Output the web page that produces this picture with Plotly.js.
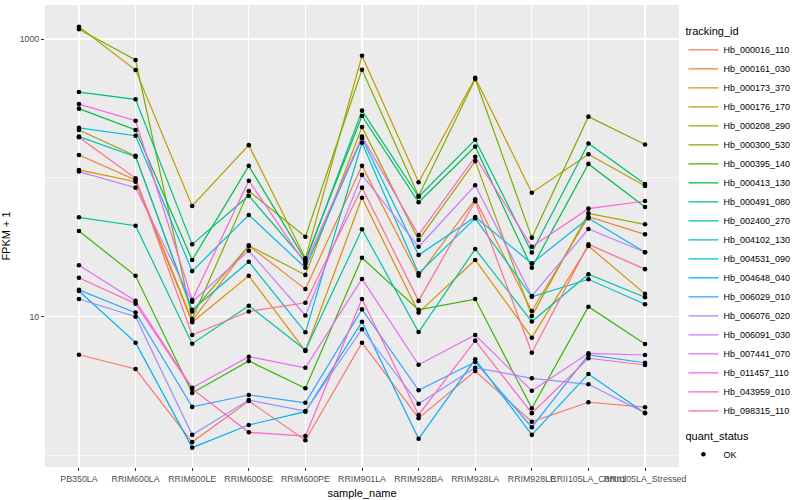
<!DOCTYPE html>
<html>
<head>
<meta charset="utf-8">
<script src="https://cdn.plot.ly/plotly-3.0.1.min.js"></script>
<style>html,body{margin:0;padding:0;background:#fff;}#chart{width:800px;height:500px;}</style>
</head>
<body>
<div id="chart"></div>
<script>
// ---- data (FPKM + 1) ----
const samples = ["PB350LA","RRIM600LA","RRIM600LE","RRIM600SE","RRIM600PE","RRIM901LA","RRIM928BA","RRIM928LA","RRIM928LE","RRII105LA_Control","RRII105LA_Stressed"];
const trackingIds = ["Hb_000016_110","Hb_000161_030","Hb_000173_370","Hb_000176_170","Hb_000208_290","Hb_000300_530","Hb_000395_140","Hb_000413_130","Hb_000491_080","Hb_002400_270","Hb_004102_130","Hb_004531_090","Hb_004648_040","Hb_006029_010","Hb_006076_020","Hb_006091_030","Hb_007441_070","Hb_011457_110","Hb_043959_010","Hb_098315_110"];

const hb_000016_110 = [5.32, 4.20, 1.25, 2.47, 1.29, 6.50, 1.86, 4.06, 1.75, 2.42, 2.23];
const hb_000161_030 = [146, 96.5, 9.36, 32.5, 15.8, 122, 19.7, 70.1, 11.0, 52.5, 39.2];
const hb_000173_370 = [114, 93.8, 9.11, 19.7, 5.66, 71.9, 10.7, 25.6, 7.06, 32.3, 14.6];
const hb_000176_170 = [1226, 598, 62.7, 172, 26.3, 758, 92.9, 526, 78.2, 148, 87.4];
const hb_000208_290 = [221, 144, 10.9, 32.5, 20.0, 232, 35.7, 132, 10.1, 55.5, 46.3];
const hb_000300_530 = [1175, 706, 9.63, 80.4, 37.7, 601, 74.0, 515, 37.1, 276, 174];
const hb_000395_140 = [41.4, 19.7, 2.82, 4.80, 3.05, 26.6, 11.2, 13.4, 2.19, 11.8, 6.36];
const hb_000413_130 = [315, 221, 25.6, 122, 25.6, 279, 66.7, 168, 22.5, 126, 61.7];
const hb_000491_080 = [415, 368, 33.2, 74.4, 24.9, 305, 73.1, 188, 29.0, 177, 90.3];
const hb_002400_270 = [52.0, 45.2, 6.39, 12.0, 5.76, 42.6, 7.76, 30.7, 9.23, 20.2, 13.8];
const hb_004102_130 = [198, 142, 11.2, 24.9, 7.72, 179, 20.5, 51.1, 13.9, 18.6, 12.3];
const hb_004531_090 = [229, 201, 21.3, 54.0, 22.5, 193, 27.8, 52.2, 24.2, 51.1, 29.1];
const hb_004648_040 = [15.3, 6.50, 1.14, 1.66, 2.07, 9.20, 1.32, 4.93, 1.41, 3.87, 2.02];
const hb_006029_010 = [15.6, 10.7, 2.24, 2.73, 2.40, 11.3, 2.95, 4.72, 1.60, 5.30, 4.66];
const hb_006076_020 = [13.4, 10.0, 1.41, 2.51, 2.09, 8.12, 2.36, 4.29, 3.60, 3.26, 2.03];
const hb_006091_030 = [111, 85.0, 12.8, 29.9, 10.2, 105, 31.9, 88.4, 14.1, 42.8, 29.1];
const hb_007441_070 = [23.5, 13.0, 3.08, 5.15, 4.29, 18.7, 4.51, 7.38, 2.93, 5.45, 5.30];
const hb_011457_110 = [340, 258, 13.2, 95.4, 24.0, 198, 38.8, 142, 31.9, 60.0, 68.1];
const hb_043959_010 = [19.1, 12.4, 3.02, 1.47, 1.38, 13.4, 1.96, 6.72, 2.02, 5.02, 4.49];
const hb_098315_110 = [196, 99.3, 7.38, 10.9, 12.6, 85.0, 13.0, 67.8, 5.50, 33.2, 22.0];

const seriesValues = [hb_000016_110, hb_000161_030, hb_000173_370, hb_000176_170, hb_000208_290, hb_000300_530, hb_000395_140, hb_000413_130, hb_000491_080, hb_002400_270, hb_004102_130, hb_004531_090, hb_004648_040, hb_006029_010, hb_006076_020, hb_006091_030, hb_007441_070, hb_011457_110, hb_043959_010, hb_098315_110];
const quantStatus = "OK";
const yTickVals = [10, 1000];
const yTickText = ["10", "1000"];

// ---- styles ----
const colors = ["#F8766D","#EA8331","#D89000","#C09B00","#A3A500","#7CAE00","#39B600","#00BB4E","#00BF7D","#00C1A3","#00BFC4","#00BAE0","#00B0F6","#35A2FF","#9590FF","#C77CFF","#E76BF3","#FA62DB","#FF62BC","#FF6C91"];
const FONT = "Liberation Sans, Arial, Helvetica, sans-serif";

const traces = trackingIds.map((id, i) => ({
  type: "scatter", mode: "lines", name: id,
  x: samples, y: seriesValues[i],
  line: {color: colors[i], width: 1.2},
  legend: "legend", hoverinfo: "name+y"
}));

const allX = [], allY = [];
seriesValues.forEach(v => { v.forEach((val, j) => { allX.push(samples[j]); allY.push(val); }); });
traces.push({
  type: "scatter", mode: "markers", name: quantStatus,
  x: allX, y: allY,
  marker: {color: "black", size: 4.6},
  legend: "legend2"
});

const layout = {
  width: 800, height: 500,
  margin: {l: 45, r: 117, t: 5, b: 33},
  paper_bgcolor: "white", plot_bgcolor: "#EBEBEB",
  font: {family: FONT, color: "black"},
  xaxis: {
    type: "category", categoryorder: "array", categoryarray: samples,
    range: [-0.6, 10.6], tickangle: 0, automargin: false,
    ticks: "outside", ticklen: 3, tickwidth: 1, tickcolor: "#333333",
    tickfont: {size: 8.8, color: "#4D4D4D", family: FONT},
    showgrid: true, gridcolor: "white", gridwidth: 1.1,
    zeroline: false, showline: false,
    title: {text: "sample_name", font: {size: 11, color: "black", family: FONT}, standoff: 6}
  },
  yaxis: {
    type: "log", range: [-0.0825, 3.245], automargin: false,
    tickmode: "array", tickvals: yTickVals, ticktext: yTickText,
    ticks: "outside", ticklen: 3, tickwidth: 1, tickcolor: "#333333",
    tickfont: {size: 8.8, color: "#4D4D4D", family: FONT},
    showgrid: true, gridcolor: "white", gridwidth: 1.1,
    minor: {tickmode: "array", tickvals: [1, 100], showgrid: true, gridcolor: "white", gridwidth: 0.55, ticks: ""},
    zeroline: false, showline: false,
    title: {text: "FPKM + 1", font: {size: 11, color: "black", family: FONT}, standoff: 6}
  },
  legend: {
    title: {text: "tracking_id", font: {size: 11, family: FONT}},
    font: {size: 9, family: FONT, color: "black"},
    x: 1.007, xanchor: "left", y: 0.965, yanchor: "top",
    bgcolor: "rgba(0,0,0,0)", traceorder: "normal"
  },
  legend2: {
    title: {text: "quant_status", font: {size: 11, family: FONT}},
    font: {size: 9, family: FONT, color: "black"},
    x: 1.007, xanchor: "left", y: 0.09, yanchor: "top",
    bgcolor: "rgba(0,0,0,0)"
  },
  showlegend: true
};

Plotly.newPlot("chart", traces, layout, {displayModeBar: false, staticPlot: true});
</script>
</body>
</html>
